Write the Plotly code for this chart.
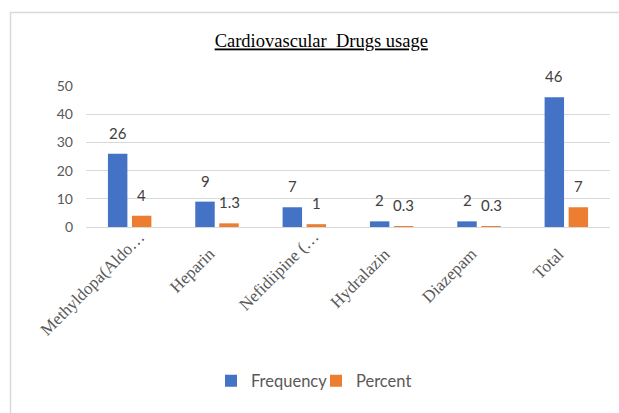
import plotly.graph_objects as go

# Drug categories and the two measured series
drugs = ["Methyldopa(Aldo…", "Heparin", "Nefidiipine (…", "Hydralazin", "Diazepam", "Total"]
frequency = [26, 9, 7, 2, 2, 46]
percent = [4, 1.3, 1, 0.3, 0.3, 7]
frequency_labels = ["26", "9", "7", "2", "2", "46"]
percent_labels = ["4", "1.3", "1", "0.3", "0.3", "7"]

BLUE = "#4472C4"
ORANGE = "#ED7D31"
GREY_TEXT = "#595959"
SANS = "Lato, Calibri, Carlito, sans-serif"
SERIF = "Liberation Serif, Times New Roman, serif"

fig = go.Figure()
fig.add_trace(go.Bar(name="Frequency", x=drugs, y=frequency, marker_color=BLUE,
                     marker_line_width=0))
fig.add_trace(go.Bar(name="Percent", x=drugs, y=percent, marker_color=ORANGE,
                     marker_line_width=0))

annotations = []

# Value labels sitting above each bar
for cat, val, txt in zip(drugs, frequency, frequency_labels):
    annotations.append(dict(x=cat, y=val, text=txt, showarrow=False, xshift=-12,
                            yshift=21, yanchor="middle",
                            font=dict(family=SANS, size=15, color="#404040")))
for cat, val, txt in zip(drugs, percent, percent_labels):
    annotations.append(dict(x=cat, y=val, text=txt, showarrow=False, xshift=12,
                            yshift=21, yanchor="middle",
                            font=dict(family=SANS, size=15, color="#404040")))

# Slanted category names under the axis; clipped names run closer to the axis
for cat in drugs:
    clipped = cat.endswith("…")
    annotations.append(dict(x=cat, y=0, yref="paper", text=cat, showarrow=False,
                            textangle=-45, xanchor="right", yanchor="top",
                            xshift=20 if clipped else 3, yshift=1 if clipped else -16,
                            borderpad=0,
                            font=dict(family=SERIF, size=17, color=GREY_TEXT)))

fig.update_layout(
    width=619, height=413,
    margin=dict(l=86, r=9, t=86, b=186),
    paper_bgcolor="white", plot_bgcolor="white",
    barmode="group", bargap=0.45, bargroupgap=0.19,
    title=dict(text="<u>Cardiovascular  Drugs usage</u>",
               x=0.519, xref="container", xanchor="center",
               y=1 - 41 / 413, yref="container", yanchor="middle",
               font=dict(family=SERIF, size=18.5, color="black")),
    xaxis=dict(showticklabels=False, showline=True, linecolor="#D9D9D9",
               linewidth=1, ticks="", showgrid=False,
               range=[-0.5, len(drugs) - 0.5], autorange=False),
    yaxis=dict(range=[0, 50], dtick=10, showgrid=True, gridcolor="#D9D9D9",
               gridwidth=1, zeroline=False, showline=False, ticks="",
               tickfont=dict(family=SANS, size=14, color=GREY_TEXT),
               ticklabelstandoff=12),
    legend=dict(orientation="h", x=(211 - 86) / 524, xanchor="left",
                y=(227 - 381) / 141, yanchor="middle",
                entrywidth=60, entrywidthmode="pixels",
                font=dict(family=SANS, size=16.5, color=GREY_TEXT),
                itemclick=False, traceorder="normal"),
    annotations=annotations,
    shapes=[dict(type="rect", xref="paper", yref="paper",
                 x0=(10.5 - 86) / 524, x1=(640 - 86) / 524,
                 y0=(227 - 430) / 141, y1=(227 - 12.5) / 141,
                 line=dict(color="#D9D9D9", width=1.5), fillcolor="rgba(0,0,0,0)",
                 layer="below")],
)

fig.write_html("out.html")
